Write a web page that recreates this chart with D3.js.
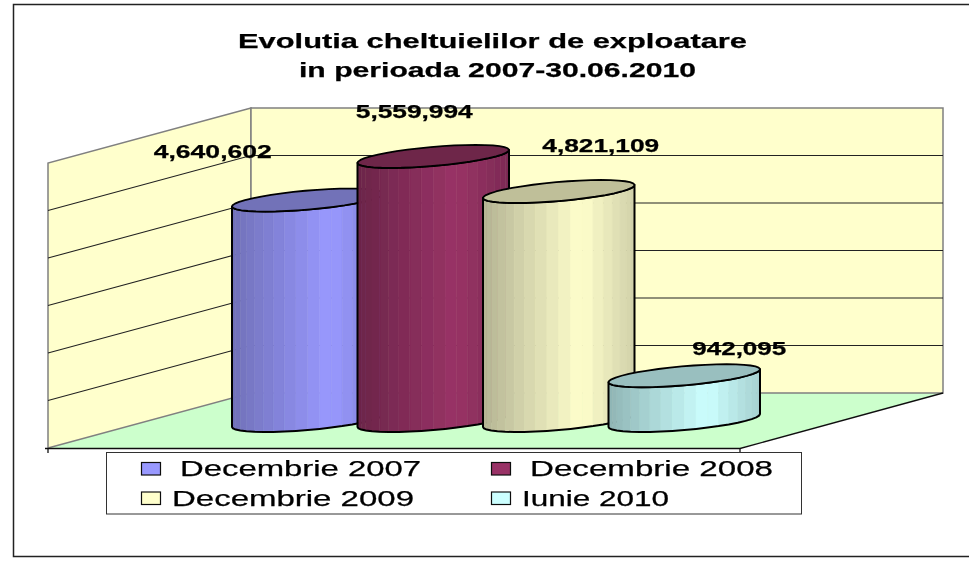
<!DOCTYPE html>
<html>
<head>
<meta charset="utf-8">
<script src="https://cdn.jsdelivr.net/npm/d3@7"></script>
<style>
  html, body { margin: 0; padding: 0; background: #fff; }
  svg { display: block; }
  text { font-family: "Liberation Sans", Arial, sans-serif; fill: #000; stroke: #000; stroke-width: 0.25; }
</style>
</head>
<body>
<script>
// chart values
let categories = ["Decembrie 2007", "Decembrie 2008", "Decembrie 2009", "Iunie 2010"];
let values = [4640602, 5559994, 4821109, 942095];
let valueLabels = ["4,640,602", "5,559,994", "4,821,109", "942,095"];
let titleLines = ["Evolutia cheltuielilor de exploatare", "in perioada 2007-30.06.2010"];
let axisMax = 6000000;
let axisSteps = 6;

let width = 969;
let height = 565;

// look of each cylinder: base is the lit side, dark is the shaded side and the lid
let baseColors = ["#9999ff", "#993366", "#ffffcc", "#ccffff"];
let darkColors = ["#7070b8", "#6b2549", "#b4b494", "#8fb4b4"];
let lidColors = ["#7272b8", "#6e264a", "#bfbf99", "#99bfbf"];

let root = d3.select("body").append("svg").attr("width", width).attr("height", height);

// the reference is a resampled picture, a very slight blur gets its soft edges
root.append("filter").attr("id", "soft")
  .attr("x", 0).attr("y", 0).attr("width", "100%").attr("height", "100%")
  .append("feGaussianBlur").attr("stdDeviation", 0.35);
let svg = root.append("g").attr("filter", "url(#soft)");
svg.append("rect").attr("width", width).attr("height", height).attr("fill", "#fff");

// scales: x runs along the front edge of the floor, y is the value on the front plane,
// depth pushes a point back and up toward the back wall
let x = d3.scaleBand().domain(categories).range([143.5, 645.5]);
let y = d3.scaleLinear().domain([0, axisMax]).range([448, 163]);
let depthX = d3.scaleLinear().domain([0, 1]).range([0, 203]);
let depthY = d3.scaleLinear().domain([0, 1]).range([0, 55]);
let floorWidth = d3.scaleLinear().domain([0, 1]).range([48, 740]);

function project(px, depth, value) {
  return [px + depthX(depth), y(value) - depthY(depth)];
}

let line = d3.line();
let closed = (pts) => line(pts) + "Z";

// outer frame, runs off the picture on the right
svg.append("rect")
  .attr("x", 13.5).attr("y", 4.5)
  .attr("width", 1000).attr("height", 552)
  .attr("fill", "#fff").attr("stroke", "#222").attr("stroke-width", 1.5);

// title
svg.selectAll(".title").data(titleLines).enter().append("text")
  .attr("class", "title")
  .attr("x", (d, i) => i === 0 ? 238 : 299)
  .attr("y", (d, i) => i === 0 ? 48 : 76.5)
  .attr("font-size", 21)
  .attr("font-weight", "bold")
  .attr("textLength", (d, i) => i === 0 ? 509 : 397)
  .attr("lengthAdjust", "spacingAndGlyphs")
  .text((d) => d);

let x0 = floorWidth(0);
let x1 = floorWidth(1);

// floor
svg.append("path")
  .attr("d", closed([project(x0, 0, 0), project(x0, 1, 0), project(x1, 1, 0), project(x1, 0, 0)]))
  .attr("fill", "#ccffcc");

// side wall and back wall
svg.append("path")
  .attr("d", closed([project(x0, 0, 0), project(x0, 0, axisMax), project(x0, 1, axisMax), project(x0, 1, 0)]))
  .attr("fill", "#ffffcc").attr("stroke", "#808080").attr("stroke-width", 1.5);
svg.append("path")
  .attr("d", closed([project(x0, 1, 0), project(x0, 1, axisMax), project(x1, 1, axisMax), project(x1, 1, 0)]))
  .attr("fill", "#ffffcc").attr("stroke", "#808080").attr("stroke-width", 1.5);

// gridlines
let gridValues = y.ticks(axisSteps).filter((t) => t > 0 && t < axisMax);
let grid = svg.append("g").attr("fill", "none").attr("stroke", "#222").attr("stroke-width", 1.1);
gridValues.forEach((t) => {
  grid.append("path").attr("d", line([project(x0, 0, t), project(x0, 1, t), project(x1, 1, t)]));
});

// front edges of the floor with their small ticks
let edges = svg.append("g").attr("fill", "none").attr("stroke", "#111").attr("stroke-width", 1.3);
edges.append("path").attr("d", line([[x0 - 3, y(0) + 0.5], [x1, y(0) + 0.5], project(x1, 1, 0)]));
edges.append("path").attr("d", line([[x0, y(0)], [x0, y(0) + 5]]));
edges.append("path").attr("d", line([[x1, y(0)], [x1, y(0) + 4]]));

// cylinders, each one a ring of flat facets like the original
let facets = 20;
let depthMid = 0.5;
let depthRadius = 0.209;

function ringPoint(cat, value, t) {
  let r = x.bandwidth() / 2;
  let cx = x(cat) + r;
  return project(cx + r * Math.cos(t), depthMid + depthRadius * Math.sin(t), value);
}

function lightAt(s) {
  // dark on the left, brightest about two thirds across, falling off again
  return s < 0.65 ? s / 0.65 : 1 - (s - 0.65) / 0.35 * 0.62;
}

// angle of the rightmost point of the ring on screen
let tRight = Math.atan2(depthX(depthRadius), x.bandwidth() / 2);

categories.forEach((cat, i) => {
  let v = values[i];
  let g = svg.append("g").attr("class", "cylinder");
  let color = d3.interpolateRgb(darkColors[i], baseColors[i]);

  let angles = d3.range(facets + 1).map((k) => tRight + Math.PI + k * Math.PI / facets);
  let lefts = ringPoint(cat, 0, angles[0])[0];
  let rights = ringPoint(cat, 0, angles[facets])[0];

  d3.pairs(angles).forEach(([a, b]) => {
    let mid = ringPoint(cat, 0, (a + b) / 2)[0];
    let fill = color(lightAt((mid - lefts) / (rights - lefts)));
    g.append("path")
      .attr("d", closed([ringPoint(cat, 0, a), ringPoint(cat, 0, b), ringPoint(cat, v, b), ringPoint(cat, v, a)]))
      .attr("fill", fill).attr("stroke", fill).attr("stroke-width", 0.6);
  });

  let outline = angles.map((t) => ringPoint(cat, 0, t))
    .concat(angles.slice().reverse().map((t) => ringPoint(cat, v, t)));
  g.append("path").attr("d", closed(outline))
    .attr("fill", "none").attr("stroke", "#000").attr("stroke-width", 2).attr("stroke-linejoin", "round");

  let lid = d3.range(facets * 2).map((k) => ringPoint(cat, v, k * Math.PI / facets));
  g.append("path").attr("d", closed(lid))
    .attr("fill", lidColors[i]).attr("stroke", "#000").attr("stroke-width", 1.8).attr("stroke-linejoin", "round");
});

// value labels sit where they were dragged to by hand in the original
let labelOffset = [[-95, -42], [-19, -38], [42, -39], [55, -21]];
let labelFit = [118, 117, 117, 94];
categories.forEach((cat, i) => {
  let top = project(x(cat) + x.bandwidth() / 2, depthMid, values[i]);
  svg.append("text")
    .attr("x", top[0] + labelOffset[i][0])
    .attr("y", top[1] + labelOffset[i][1])
    .attr("text-anchor", "middle")
    .attr("font-size", 18)
    .attr("font-weight", "bold")
    .attr("textLength", labelFit[i])
    .attr("lengthAdjust", "spacingAndGlyphs")
    .text(valueLabels[i]);
});

// legend
svg.append("rect")
  .attr("x", 106.5).attr("y", 452.5)
  .attr("width", 695).attr("height", 61.5)
  .attr("fill", "#fff").attr("stroke", "#333").attr("stroke-width", 1);

let legendCol = d3.scalePoint().domain([0, 1]).range([141, 491]);
let legendRow = d3.scalePoint().domain([0, 1]).range([462, 491.5]);
let legendTextX = [180, 530, 172, 522];
let legendFit = [241, 243, 242, 147];

categories.forEach((cat, i) => {
  let col = i % 2;
  let row = Math.floor(i / 2);
  svg.append("rect")
    .attr("x", legendCol(col) + 0.5).attr("y", legendRow(row) + 0.5)
    .attr("width", 19).attr("height", 12.5)
    .attr("fill", baseColors[i]).attr("stroke", "#111").attr("stroke-width", 1.2);
  svg.append("text")
    .attr("x", legendTextX[i])
    .attr("y", legendRow(row) + 14)
    .attr("font-size", 22)
    .attr("textLength", legendFit[i])
    .attr("lengthAdjust", "spacingAndGlyphs")
    .text(cat);
});
</script>
</body>
</html>
